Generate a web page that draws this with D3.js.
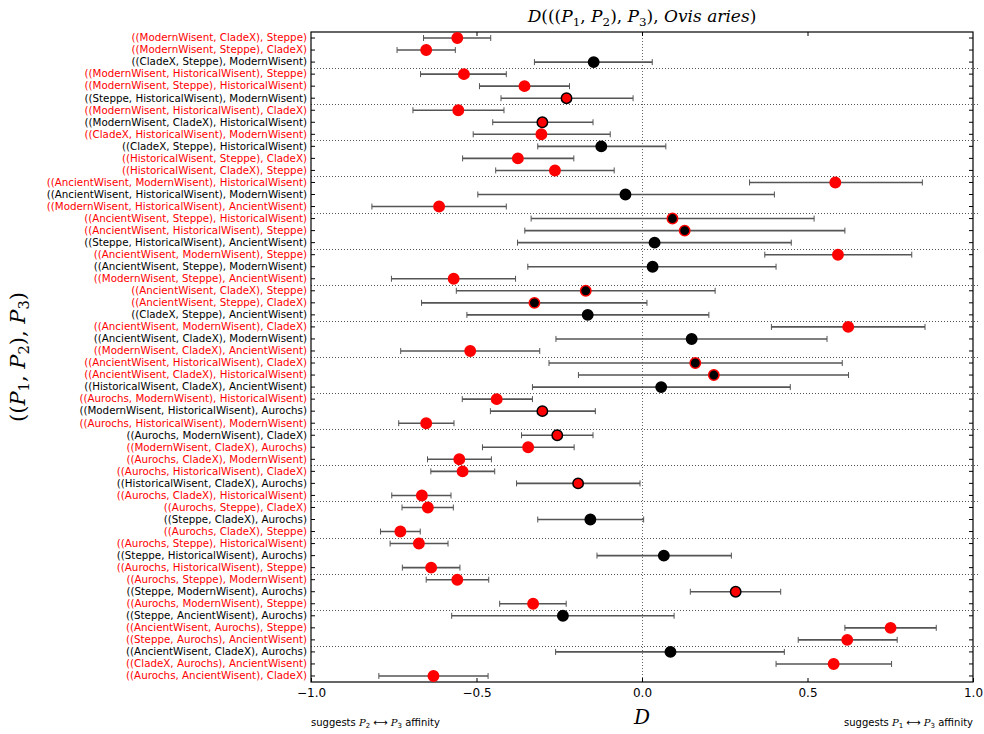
<!DOCTYPE html>
<html>
<head>
<meta charset="utf-8">
<script src="https://cdn.jsdelivr.net/npm/d3@7"></script>
<style>
  body { margin: 0; background: #fff; }
  svg text { font-family: "DejaVu Sans", sans-serif; }
</style>
</head>
<body>
<div id="chart"></div>
<script>
// Topologies ((P1, P2), P3), top to bottom
var labels = [
  "((ModernWisent, CladeX), Steppe)",
  "((ModernWisent, Steppe), CladeX)",
  "((CladeX, Steppe), ModernWisent)",
  "((ModernWisent, HistoricalWisent), Steppe)",
  "((ModernWisent, Steppe), HistoricalWisent)",
  "((Steppe, HistoricalWisent), ModernWisent)",
  "((ModernWisent, HistoricalWisent), CladeX)",
  "((ModernWisent, CladeX), HistoricalWisent)",
  "((CladeX, HistoricalWisent), ModernWisent)",
  "((CladeX, Steppe), HistoricalWisent)",
  "((HistoricalWisent, Steppe), CladeX)",
  "((HistoricalWisent, CladeX), Steppe)",
  "((AncientWisent, ModernWisent), HistoricalWisent)",
  "((AncientWisent, HistoricalWisent), ModernWisent)",
  "((ModernWisent, HistoricalWisent), AncientWisent)",
  "((AncientWisent, Steppe), HistoricalWisent)",
  "((AncientWisent, HistoricalWisent), Steppe)",
  "((Steppe, HistoricalWisent), AncientWisent)",
  "((AncientWisent, ModernWisent), Steppe)",
  "((AncientWisent, Steppe), ModernWisent)",
  "((ModernWisent, Steppe), AncientWisent)",
  "((AncientWisent, CladeX), Steppe)",
  "((AncientWisent, Steppe), CladeX)",
  "((CladeX, Steppe), AncientWisent)",
  "((AncientWisent, ModernWisent), CladeX)",
  "((AncientWisent, CladeX), ModernWisent)",
  "((ModernWisent, CladeX), AncientWisent)",
  "((AncientWisent, HistoricalWisent), CladeX)",
  "((AncientWisent, CladeX), HistoricalWisent)",
  "((HistoricalWisent, CladeX), AncientWisent)",
  "((Aurochs, ModernWisent), HistoricalWisent)",
  "((ModernWisent, HistoricalWisent), Aurochs)",
  "((Aurochs, HistoricalWisent), ModernWisent)",
  "((Aurochs, ModernWisent), CladeX)",
  "((ModernWisent, CladeX), Aurochs)",
  "((Aurochs, CladeX), ModernWisent)",
  "((Aurochs, HistoricalWisent), CladeX)",
  "((HistoricalWisent, CladeX), Aurochs)",
  "((Aurochs, CladeX), HistoricalWisent)",
  "((Aurochs, Steppe), CladeX)",
  "((Steppe, CladeX), Aurochs)",
  "((Aurochs, CladeX), Steppe)",
  "((Aurochs, Steppe), HistoricalWisent)",
  "((Steppe, HistoricalWisent), Aurochs)",
  "((Aurochs, HistoricalWisent), Steppe)",
  "((Aurochs, Steppe), ModernWisent)",
  "((Steppe, ModernWisent), Aurochs)",
  "((Aurochs, ModernWisent), Steppe)",
  "((Steppe, AncientWisent), Aurochs)",
  "((AncientWisent, Aurochs), Steppe)",
  "((Steppe, Aurochs), AncientWisent)",
  "((AncientWisent, CladeX), Aurochs)",
  "((CladeX, Aurochs), AncientWisent)",
  "((Aurochs, AncientWisent), CladeX)"
];

// 1 = label drawn in red, 0 = black
var redLabel = [
  1, 1, 0, 1, 1, 0, 1, 0, 1, 0, 1, 1, 1, 0, 1, 1, 1, 0,
  1, 0, 1, 1, 1, 0, 1, 0, 1, 1, 1, 0, 1, 0, 1, 0, 1, 1,
  1, 0, 1, 1, 0, 1, 1, 0, 1, 1, 0, 1, 0, 1, 1, 0, 1, 1
];

// D statistic
var dValues = [
  -0.558, -0.652, -0.146, -0.538, -0.355, -0.228, -0.555, -0.301, -0.304,
  -0.123, -0.375, -0.263, 0.584, -0.050, -0.613, 0.092, 0.129, 0.038,
  0.592, 0.032, -0.569, -0.170, -0.325, -0.164, 0.623, 0.150, -0.519,
  0.161, 0.217, 0.058, -0.439, -0.301, -0.652, -0.256, -0.344, -0.552,
  -0.542, -0.193, -0.665, -0.647, -0.156, -0.730, -0.674, 0.066, -0.637,
  -0.558, 0.283, -0.329, -0.239, 0.751, 0.620, 0.086, 0.579, -0.630
];

// error bar ends
var lowValues = [
  -0.660, -0.740, -0.325, -0.669, -0.491, -0.426, -0.692, -0.451, -0.510,
  -0.315, -0.542, -0.442, 0.325, -0.496, -0.816, -0.335, -0.354, -0.376,
  0.371, -0.345, -0.757, -0.561, -0.666, -0.529, 0.391, -0.260, -0.729,
  -0.281, -0.192, -0.331, -0.543, -0.458, -0.735, -0.364, -0.482, -0.648,
  -0.638, -0.379, -0.756, -0.725, -0.315, -0.790, -0.761, -0.136, -0.724,
  -0.652, 0.146, -0.430, -0.575, 0.613, 0.472, -0.261, 0.405, -0.795
];
var highValues = [
  -0.457, -0.564, 0.031, -0.410, -0.219, -0.027, -0.417, -0.148, -0.096,
  0.072, -0.206, -0.084, 0.847, 0.400, -0.410, 0.520, 0.613, 0.451,
  0.815, 0.405, -0.382, 0.221, 0.015, 0.202, 0.855, 0.559, -0.309,
  0.605, 0.624, 0.448, -0.331, -0.141, -0.568, -0.148, -0.205, -0.455,
  -0.445, -0.006, -0.577, -0.570, 0.005, -0.670, -0.586, 0.270, -0.550,
  -0.463, 0.419, -0.229, 0.097, 0.889, 0.771, 0.430, 0.754, -0.465
];

var xTicks = [-1.0, -0.5, 0.0, 0.5, 1.0];
var topTicks = [-0.5, 0.0, 0.5];

// writes a list of [text, kind] pieces into a text element, kind: "i" italic, "s" subscript
function mathText(t, parts, serif) {
  var down = false;
  parts.forEach(function(p) {
    var s = t.append("tspan").text(p[0]);
    if (p[1] === "s") {
      s.attr("font-size", "0.7em").attr("dy", "0.3em");
      down = true;
    } else {
      if (down) { s.attr("dy", "-0.21em"); down = false; }
      if (p[1] === "i") s.attr("font-style", "italic").style("font-family", serif);
    }
  });
}

function drawGraph() {
  var width = 984, height = 734;
  var left = 311, right = 973, top = 32, bottom = 682;
  var serif = "'DejaVu Serif', serif";

  var svg = d3.select("#chart").append("svg")
    .attr("width", width)
    .attr("height", height);

  var x = d3.scaleLinear().domain([-1, 1]).range([left, right]);
  var y = d3.scaleBand().domain(d3.range(labels.length)).range([top, bottom]);
  var mid = function(i) { return y(i) + y.bandwidth() / 2; };

  // dotted lines between groups of three
  var seps = d3.range(3, labels.length, 3);
  svg.selectAll("line.sep").data(seps).enter().append("line")
    .attr("x1", left).attr("x2", right + 5)
    .attr("y1", d => Math.round(y(d)) + 0.5).attr("y2", d => Math.round(y(d)) + 0.5)
    .attr("stroke", "#555").attr("stroke-width", 1)
    .attr("stroke-dasharray", "1,2");

  // zero line
  svg.append("line")
    .attr("x1", Math.round(x(0)) + 0.5).attr("x2", Math.round(x(0)) + 0.5)
    .attr("y1", top).attr("y2", bottom)
    .attr("stroke", "#666").attr("stroke-dasharray", "1,2");

  // axes
  var bottomAxis = d3.axisBottom(x).tickValues(xTicks)
    .tickSizeInner(-4).tickSizeOuter(0).tickPadding(6)
    .tickFormat(d3.format(".1f"));
  var gb = svg.append("g").attr("transform", "translate(0," + bottom + ")").call(bottomAxis);
  gb.selectAll("text").attr("font-size", 12).attr("fill", "#000");

  var gt = svg.append("g").attr("transform", "translate(0," + top + ")")
    .call(d3.axisTop(x).tickValues(topTicks).tickSizeInner(-4).tickSizeOuter(0).tickFormat(""));

  var leftAxis = d3.axisLeft(y).tickSizeInner(-4).tickSizeOuter(0).tickPadding(4)
    .tickFormat(i => labels[i]);
  var gl = svg.append("g").attr("transform", "translate(" + left + ",0)").call(leftAxis);
  gl.selectAll("text")
    .attr("font-size", 10.3)
    .attr("fill", i => redLabel[i] ? "#ff0000" : "#000");

  var gr = svg.append("g").attr("transform", "translate(" + right + ",0)")
    .call(d3.axisRight(y).tickSizeInner(-4).tickSizeOuter(0).tickFormat(""));

  [gb, gt, gl, gr].forEach(function(g) {
    g.select(".domain").remove();
    g.selectAll(".tick line").attr("stroke", "#000");
  });

  // frame
  svg.append("rect")
    .attr("x", left).attr("y", top)
    .attr("width", right - left).attr("height", bottom - top)
    .attr("fill", "none").attr("stroke", "#000").attr("stroke-width", 1.2);

  // error bars
  var rows = d3.range(labels.length);
  var bars = svg.append("g").attr("stroke", "#555").attr("stroke-width", 1.6);
  bars.selectAll("line.bar").data(rows).enter().append("line")
    .attr("x1", i => x(lowValues[i])).attr("x2", i => x(highValues[i]))
    .attr("y1", mid).attr("y2", mid);
  bars.selectAll("line.capl").data(rows).enter().append("line")
    .attr("x1", i => x(lowValues[i])).attr("x2", i => x(lowValues[i]))
    .attr("y1", i => mid(i) - 3).attr("y2", i => mid(i) + 3)
    .attr("stroke-width", 1);
  bars.selectAll("line.caph").data(rows).enter().append("line")
    .attr("x1", i => x(highValues[i])).attr("x2", i => x(highValues[i]))
    .attr("y1", i => mid(i) - 3).attr("y2", i => mid(i) + 3)
    .attr("stroke-width", 1);

  // points: red if the bar does not cross zero, edge follows label colour
  svg.selectAll("circle").data(rows).enter().append("circle")
    .attr("cx", i => x(dValues[i])).attr("cy", mid)
    .attr("r", 5.2)
    .attr("fill", i => (lowValues[i] > 0 || highValues[i] < 0) ? "#ff0000" : "#000")
    .attr("stroke", i => redLabel[i] ? "#ff0000" : "#000")
    .attr("stroke-width", 1.5);

  // title
  var title = svg.append("text")
    .attr("x", (left + right) / 2).attr("y", 22)
    .attr("text-anchor", "middle")
    .attr("font-size", 17)
    .style("font-family", serif);
  mathText(title, [["D", "i"], ["((("], ["P", "i"], ["1", "s"], [", "], ["P", "i"], ["2", "s"],
    ["), "], ["P", "i"], ["3", "s"], ["), "], ["Ovis aries", "i"], [")"]], serif);

  // y label
  var ylab = svg.append("text")
    .attr("transform", "translate(25," + ((top + bottom) / 2) + ") rotate(-90)")
    .attr("text-anchor", "middle")
    .attr("font-size", 21)
    .style("font-family", serif);
  mathText(ylab, [["(("], ["P", "i"], ["1", "s"], [", "], ["P", "i"], ["2", "s"],
    ["), "], ["P", "i"], ["3", "s"], [")"]], serif);

  // x label
  svg.append("text")
    .attr("x", x(0)).attr("y", 724)
    .attr("text-anchor", "middle")
    .attr("font-size", 20)
    .attr("font-style", "italic")
    .style("font-family", serif)
    .text("D");

  // affinity notes
  var note = function(xpos, anchor, a) {
    var t = svg.append("text")
      .attr("x", xpos).attr("y", 726)
      .attr("text-anchor", anchor)
      .attr("font-size", 10);
    mathText(t, [["suggests "], ["P", "i"], [a, "s"], [" \u27F7 "], ["P", "i"], ["3", "s"],
      [" affinity"]], serif);
  };
  note(left, "start", "2");
  note(right, "end", "1");
}

window.onload = function() { drawGraph(); };
</script>
</body>
</html>
